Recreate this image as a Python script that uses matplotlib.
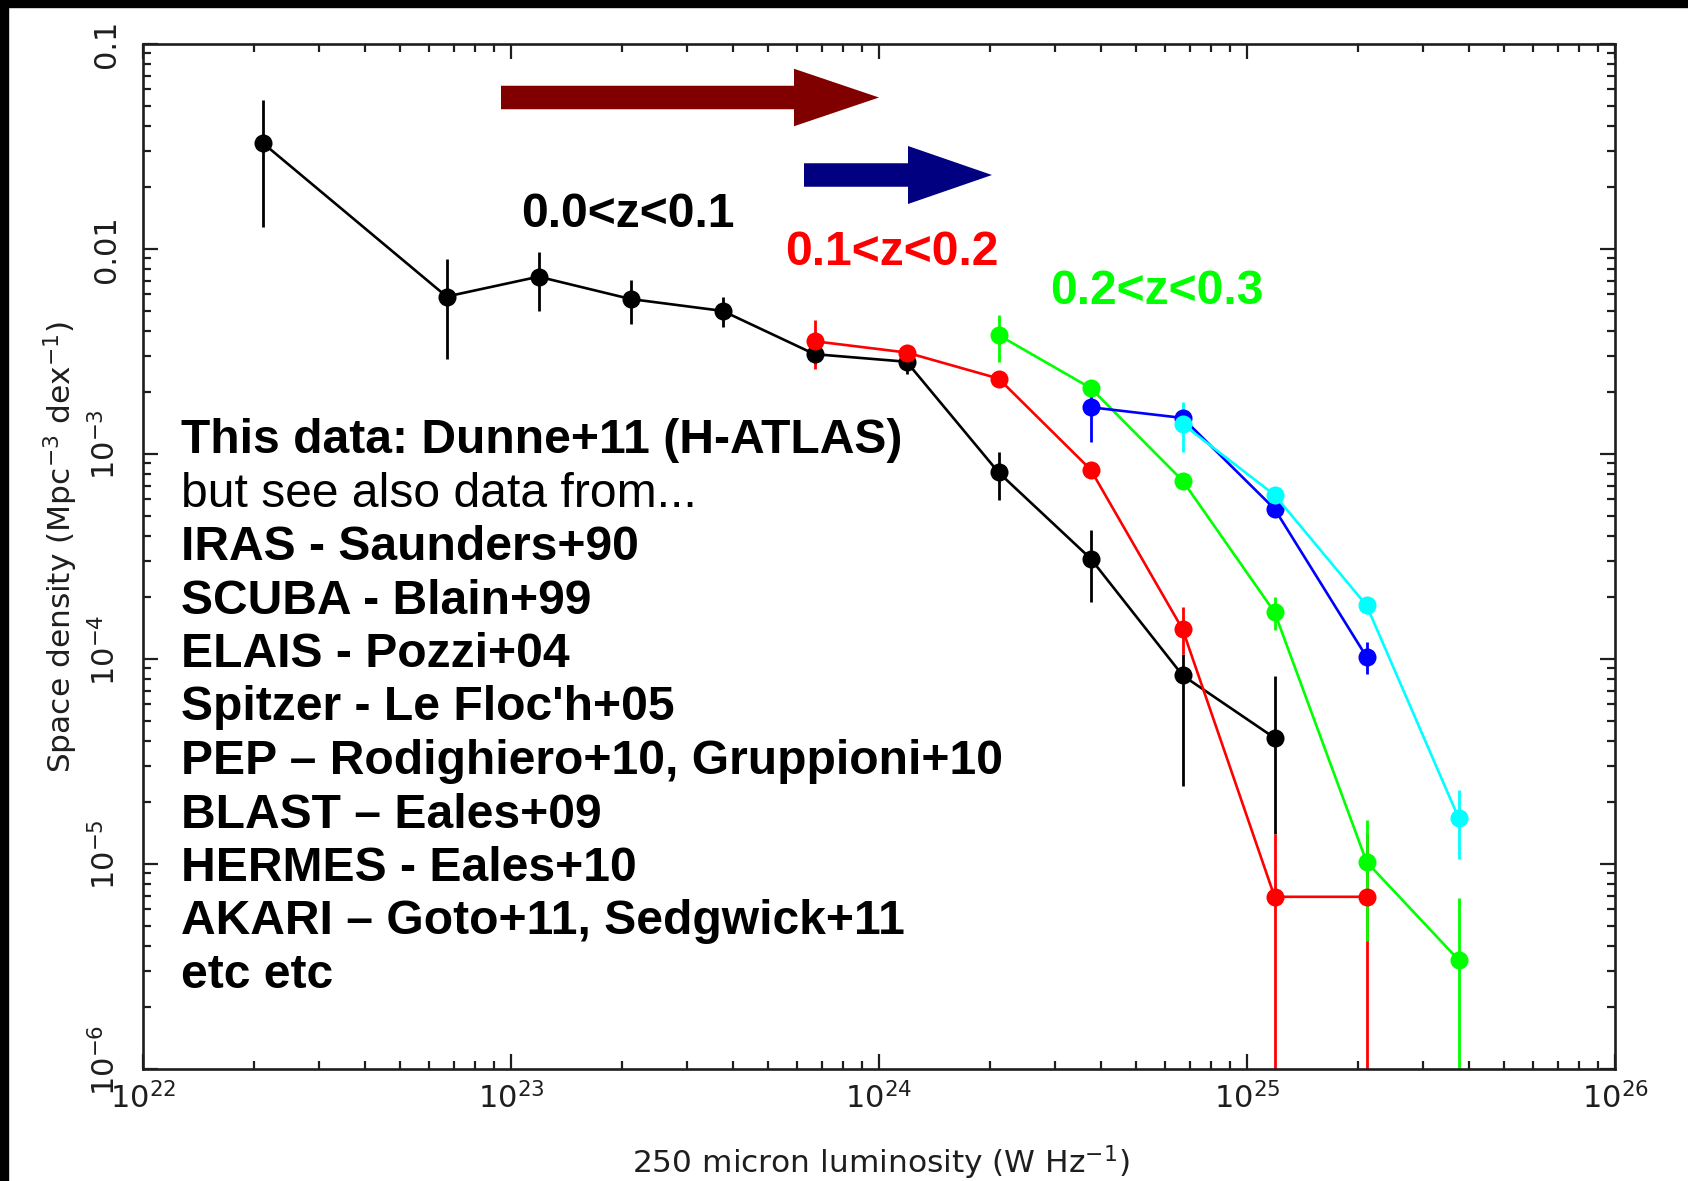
import numpy as np
import matplotlib
matplotlib.use("Agg")
import matplotlib.pyplot as plt
import matplotlib.transforms as mtransforms
from matplotlib import font_manager
from matplotlib.patches import Rectangle, Polygon
from matplotlib.ticker import FixedLocator, LogLocator, NullFormatter

# ---------------------------------------------------------------------------
# 250 micron luminosity function, H-ATLAS redshift slices
# log10 L250 [W/Hz] bin centres, log10 phi [Mpc^-3 dex^-1], upper / lower bounds
# (lower bound of -inf means the error bar reaches zero density)
# ---------------------------------------------------------------------------
logL_z00 = [22.325, 22.825, 23.075, 23.325, 23.575, 23.825, 24.075, 24.325, 24.575, 24.825, 25.075]
logphi_z00 = [-1.482, -2.232, -2.135, -2.244, -2.302, -2.513, -2.550, -3.090, -3.510, -4.080, -4.385]
hi_z00 = [-1.273, -2.049, -2.017, -2.150, -2.236, -2.470, -2.528, -2.990, -3.369, -3.975, -4.085]
lo_z00 = [-1.892, -2.537, -2.304, -2.366, -2.379, -2.560, -2.610, -3.222, -3.723, -4.620, -4.856]

logL_z01 = [23.825, 24.075, 24.325, 24.575, 24.825, 25.075, 25.325]
logphi_z01 = [-2.450, -2.505, -2.632, -3.076, -3.855, -5.160, -5.160]
hi_z01 = [-2.346, -2.470, -2.600, -3.050, -3.747, -4.856, -4.856]
lo_z01 = [-2.585, -2.540, -2.665, -3.100, -3.975, -np.inf, -np.inf]

logL_z02 = [24.325, 24.575, 24.825, 25.075, 25.325, 25.575]
logphi_z02 = [-2.420, -2.678, -3.130, -3.772, -4.990, -5.468]
hi_z02 = [-2.320, -2.650, -3.100, -3.700, -4.783, -5.166]
lo_z02 = [-2.553, -2.710, -3.160, -3.860, -5.376, -np.inf]

logL_blue = [24.575, 24.825, 25.075, 25.325]
logphi_blue = [-2.772, -2.824, -3.268, -3.990]
hi_blue = [-2.642, -2.800, -3.240, -3.917]
lo_blue = [-2.943, -2.850, -3.300, -4.072]

logL_cyan = [24.825, 25.075, 25.325, 25.575]
logphi_cyan = [-2.854, -3.200, -3.739, -4.775]
hi_cyan = [-2.748, -3.160, -3.700, -4.640]
lo_cyan = [-2.990, -3.250, -3.780, -4.978]

slice_labels = ["0.0<z<0.1", "0.1<z<0.2", "0.2<z<0.3"]

ytick_values = [1e-6, 1e-5, 1e-4, 1e-3, 1e-2, 1e-1]
ytick_labels = [r"$10^{-6}$", r"$10^{-5}$", r"$10^{-4}$", r"$10^{-3}$", "0.01", "0.1"]

reference_lines = [
    ("This data: Dunne+11 (H-ATLAS)", "bold"),
    ("but see also data from...", "normal"),
    ("IRAS - Saunders+90", "bold"),
    ("SCUBA - Blain+99", "bold"),
    ("ELAIS - Pozzi+04", "bold"),
    ("Spitzer - Le Floc'h+05", "bold"),
    ("PEP \u2013 Rodighiero+10, Gruppioni+10", "bold"),
    ("BLAST \u2013 Eales+09", "bold"),
    ("HERMES - Eales+10", "bold"),
    ("AKARI \u2013 Goto+11, Sedgwick+11", "bold"),
    ("etc etc", "bold"),
]

# ---------------------------------------------------------------------------
W, H, DPI = 1688, 1181, 100
names = {f.name for f in font_manager.fontManager.ttflist}
NARROW = "Liberation Sans Narrow" if "Liberation Sans Narrow" in names else "Liberation Sans"
AXFONT = "DejaVu Sans"
AXCOL = "#1e1e1e"
plt.rcParams["mathtext.fontset"] = "dejavusans"

fig = plt.figure(figsize=(W / DPI, H / DPI), dpi=DPI)
fig.patch.set_facecolor("white")


def fpos(x, y):
    """pixel position (from top-left) -> figure fraction"""
    return x / W, 1.0 - y / H


# thin dark frame on the left and top edges
fig.patches.append(Rectangle((0, 0), 8 / W, 1, transform=fig.transFigure, color="black", zorder=0))
fig.patches.append(Rectangle((0, 1 - 7 / H), 1, 7 / H, transform=fig.transFigure, color="black", zorder=0))

x0, x1, y0, y1 = 143, 1615, 44, 1069
ax = fig.add_axes([x0 / W, 1 - y1 / H, (x1 - x0) / W, (y1 - y0) / H])
ax.set_xscale("log")
ax.set_yscale("log")
ax.set_xlim(1e22, 1e26)
ax.set_ylim(1e-6, 0.1)

for sp in ax.spines.values():
    sp.set_linewidth(1.9)
    sp.set_color(AXCOL)

ax.xaxis.set_major_locator(LogLocator(base=10, numticks=10))
ax.xaxis.set_minor_locator(LogLocator(base=10, subs=np.arange(2, 10), numticks=100))
ax.xaxis.set_minor_formatter(NullFormatter())
ax.yaxis.set_major_locator(FixedLocator(ytick_values))
ax.yaxis.set_major_formatter(NullFormatter())
ax.yaxis.set_minor_locator(LogLocator(base=10, subs=np.arange(2, 10), numticks=100))
ax.yaxis.set_minor_formatter(NullFormatter())

ax.tick_params(which="both", direction="in", top=True, right=True, colors=AXCOL)
ax.tick_params(which="major", length=10.8, width=1.6)
ax.tick_params(which="minor", length=5.8, width=1.6)
ax.tick_params(axis="x", which="major", pad=9, labelsize=22)
for lab in ax.get_xticklabels():
    lab.set_fontfamily(AXFONT)

# y tick labels written along the axis; powers of ten keep the "10" centred on the tick
ylab_trans = mtransforms.blended_transform_factory(ax.transAxes, ax.transData)
for val, txt in zip(ytick_values, ytick_labels):
    shift = 9 / DPI if txt.startswith("$") else 0.0
    tr = ylab_trans + mtransforms.ScaledTranslation(-22 / DPI, shift, fig.dpi_scale_trans)
    ax.text(0, val, txt, transform=tr, rotation=90, ha="right", va="center",
            fontsize=22, family=AXFONT, color=AXCOL, clip_on=False)


def draw(logL, logphi, hi, lo, color):
    L = 10.0 ** np.asarray(logL)
    phi = 10.0 ** np.asarray(logphi)
    up = 10.0 ** np.asarray(hi) - phi
    dn = phi - 10.0 ** np.asarray(lo)
    ax.errorbar(L, phi, yerr=[dn, up], fmt="o-", color=color, ms=13, lw=1.9,
                elinewidth=2.0, capsize=0, mew=0)


draw(logL_z00, logphi_z00, hi_z00, lo_z00, "black")
draw(logL_z01, logphi_z01, hi_z01, lo_z01, "#ff0000")
draw(logL_z02, logphi_z02, hi_z02, lo_z02, "#00ff00")
draw(logL_blue, logphi_blue, hi_blue, lo_blue, "#0000ff")
draw(logL_cyan, logphi_cyan, hi_cyan, lo_cyan, "#00ffff")

# axis titles
fig.text(*fpos(881, 1163), r"250 micron luminosity (W Hz$^{-1}$)", ha="center", va="center",
         fontsize=22.5, family=AXFONT, color=AXCOL)
fig.text(*fpos(61, 547), r"Space density (Mpc$^{-3}$ dex$^{-1}$)", ha="center", va="center",
         rotation=90, fontsize=22.5, family=AXFONT, color=AXCOL)


# luminosity-evolution arrows
def arrow(xt, xtip, yc, shaft, head, xhead, color):
    pts = [(xt, yc - shaft), (xhead, yc - shaft), (xhead, yc - head), (xtip, yc),
           (xhead, yc + head), (xhead, yc + shaft), (xt, yc + shaft)]
    fig.patches.append(Polygon([fpos(px, py) for px, py in pts], closed=True,
                               transform=fig.transFigure, facecolor=color, edgecolor="none", zorder=5))


arrow(501, 879, 97.5, 11.75, 28.75, 794, "#800000")
arrow(804, 992, 175, 11.75, 29, 908, "#000080")

# redshift slice labels
for txt, (px, py), col in zip(slice_labels, [(521, 227), (785, 265), (1050, 303.6)],
                              ["black", "#ff0000", "#00ff00"]):
    fig.text(*fpos(px, py), txt, ha="left", va="baseline", fontsize=34.6,
             family=NARROW, weight="bold", color=col)

# literature list
for i, (txt, wt) in enumerate(reference_lines):
    fig.text(*fpos(181, 453 + 53.5 * i), txt, ha="left", va="baseline", fontsize=34.6,
             family=NARROW, weight=wt, color="black")

fig.savefig("out.png", dpi=DPI)
